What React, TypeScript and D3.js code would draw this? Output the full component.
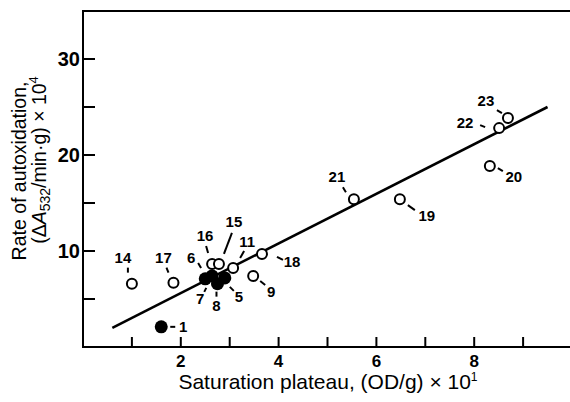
import * as d3 from 'd3'
import React, { useEffect, useRef } from 'react'

// samples
const ids = ['1', '14', '17', '6', '7', '8', '5', '16', '15', '11', '18', '9', '21', '19', '20', '22', '23']
const plateau = [1.6, 1.0, 1.85, 2.64, 2.5, 2.75, 2.9, 2.64, 2.78, 3.07, 3.66, 3.48, 5.54, 6.48, 8.32, 8.51, 8.69]
const rate = [2.1, 6.6, 6.7, 7.4, 7.1, 6.6, 7.2, 8.65, 8.65, 8.23, 9.69, 7.4, 15.4, 15.4, 18.85, 22.8, 23.85]
const filled = [true, false, false, true, true, true, true, false, false, false, false, false, false, false, false, false, false]

// fitted line
const fitX = [0.6, 9.5]
const fitY = [2.0, 25.0]

const xTicks = [1, 2, 3, 4, 5, 6, 7, 8, 9]
const xTickLabels = ['', '2', '', '4', '', '6', '', '8', '']
const yTicks = [5, 10, 15, 20, 25, 30]
const yTickLabels = ['', '10', '', '20', '', '30']

// label placement, offsets from the point: [labelX, labelY, tickX1, tickY1, tickX2, tickY2]
const labelLayout: Record<string, number[]> = {
  '1': [22, 0, 9, 0, 14, 0],
  '14': [-9, -26, -4, -16, -4, -11],
  '17': [-10, -25, -7, -15, -5, -10],
  '6': [-21, -18, -14, -13, -11, -8],
  '7': [-5, 20, 1, 9, -1, 13],
  '8': [-1, 22, -1, 8, -1, 13],
  '5': [14, 19, 5, 9, 9, 13],
  '16': [-7, -28, -6, -18, -4, -11],
  '15': [15, -42, 13, -31, 5, -10],
  '11': [14, -26, 11, -17, 7, -10],
  '18': [30, 8, 15, 3, 21, 6],
  '9': [18, 16, 7, 5, 12, 9],
  '21': [-17, -22, -11, -12, -8, -7],
  '19': [27, 17, 8, 6, 15, 11],
  '20': [24, 11, 8, 2, 13, 5],
  '22': [-34, -5, -19, -3, -14, -1],
  '23': [-22, -17, -11, -8, -6, -5]
}

const FONT = '"Liberation Sans", Arial, Helvetica, sans-serif'

export default function App() {
  const ref = useRef<SVGSVGElement>(null)

  useEffect(() => {
    const svg = d3.select(ref.current)
    svg.selectAll('*').remove()

    const x = d3.scaleLinear().domain([0, 10]).range([83, 572])
    const y = d3.scaleLinear().domain([0, 35]).range([347, 11])

    const g = svg.append('g').attr('font-family', FONT).attr('fill', '#000')

    //frame: left, bottom, top
    g.append('path')
      .attr('d', `M${x(10)},${y(35)}H${x(0)}V${y(0)}H${x(10)}`)
      .attr('fill', 'none')
      .attr('stroke', '#000')
      .attr('stroke-width', 2)

    //x ticks
    g.selectAll('.xt')
      .data(xTicks)
      .join('line')
      .attr('x1', d => x(d))
      .attr('x2', d => x(d))
      .attr('y1', y(0))
      .attr('y2', y(0) - 10)
      .attr('stroke', '#000')
      .attr('stroke-width', 2)

    g.selectAll('.xl')
      .data(xTicks)
      .join('text')
      .attr('x', d => x(d))
      .attr('y', 367)
      .attr('text-anchor', 'middle')
      .attr('font-size', 17)
      .attr('font-weight', 'bold')
      .text((d, i) => xTickLabels[i])

    //y ticks
    g.selectAll('.yt')
      .data(yTicks)
      .join('line')
      .attr('x1', x(0))
      .attr('x2', x(0) + 12)
      .attr('y1', d => y(d))
      .attr('y2', d => y(d))
      .attr('stroke', '#000')
      .attr('stroke-width', 2)

    g.selectAll('.yl')
      .data(yTicks)
      .join('text')
      .attr('x', 80)
      .attr('y', d => y(d) + 7)
      .attr('text-anchor', 'end')
      .attr('font-size', 20)
      .attr('font-weight', 'bold')
      .text((d, i) => yTickLabels[i])

    //axis titles
    const xt = g.append('text')
      .attr('x', 328)
      .attr('y', 389)
      .attr('text-anchor', 'middle')
      .attr('font-size', 21)
    xt.append('tspan').text('Saturation plateau, (OD/g) × 10')
    xt.append('tspan').attr('dy', -8).attr('font-size', 12).text('1')

    const yt1 = g.append('text')
      .attr('transform', 'translate(26,171) rotate(-90)')
      .attr('text-anchor', 'middle')
      .attr('font-size', 19.5)
    yt1.text('Rate of autoxidation,')

    const yt2 = g.append('text')
      .attr('transform', 'translate(46,160) rotate(-90)')
      .attr('text-anchor', 'middle')
      .attr('font-size', 19.5)
    yt2.append('tspan').text('(Δ')
    yt2.append('tspan').attr('font-style', 'italic').text('A')
    yt2.append('tspan').attr('dy', 4).attr('font-size', 14).text('532')
    yt2.append('tspan').attr('dy', -4).text('/min·g) × 10')
    yt2.append('tspan').attr('dy', -8).attr('font-size', 13).text('4')

    //fitted line
    const line = d3.line<number>()
      .x(d => x(d))
      .y((d, i) => y(fitY[i]))
    g.append('path')
      .attr('d', line(fitX))
      .attr('fill', 'none')
      .attr('stroke', '#000')
      .attr('stroke-width', 2.6)

    //points
    const idx = d3.range(ids.length)
    g.selectAll('.pt')
      .data(idx)
      .join('circle')
      .attr('cx', i => x(plateau[i]))
      .attr('cy', i => y(rate[i]))
      .attr('r', i => (filled[i] ? 6.5 : 5))
      .attr('fill', i => (filled[i] ? '#000' : '#fff'))
      .attr('stroke', '#000')
      .attr('stroke-width', i => (filled[i] ? 0 : 2))

    //labels with leader ticks
    idx.forEach(i => {
      const px = x(plateau[i])
      const py = y(rate[i])
      const [lx, ly, t1x, t1y, t2x, t2y] = labelLayout[ids[i]]
      g.append('line')
        .attr('x1', px + t1x)
        .attr('y1', py + t1y)
        .attr('x2', px + t2x)
        .attr('y2', py + t2y)
        .attr('stroke', '#000')
        .attr('stroke-width', 2)
      g.append('text')
        .attr('x', px + lx)
        .attr('y', py + ly + 5)
        .attr('text-anchor', 'middle')
        .attr('font-size', 15)
        .attr('font-weight', 'bold')
        .text(ids[i])
    })
  }, [])

  return (
    <svg
      ref={ref}
      width={570}
      height={402}
      style={{ position: 'absolute', left: 0, top: 0, background: '#fff' }}
    />
  )
}
